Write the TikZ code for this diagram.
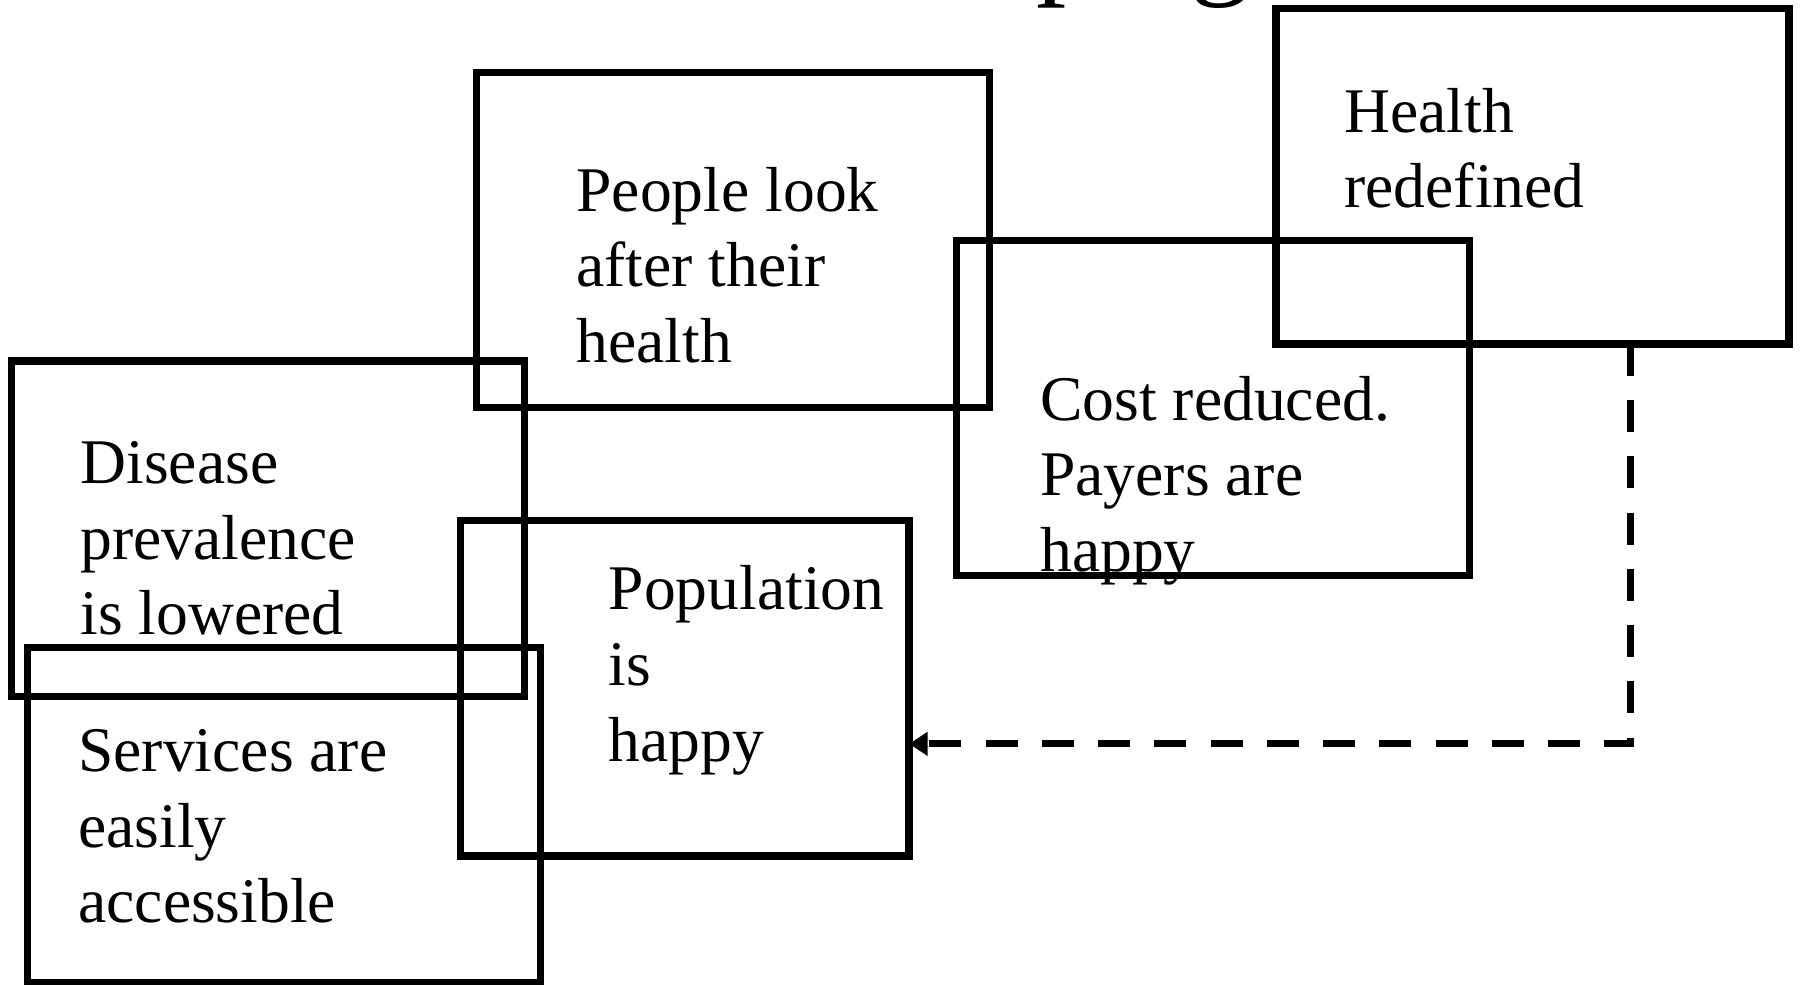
\documentclass[tikz,border=0pt]{standalone}
\usepackage{fontspec}
\setmainfont{Liberation Serif}
\usetikzlibrary{arrows.meta}
\newcommand{\bodyfont}{\fontsize{55.4}{66}\selectfont}
\begin{document}
\begin{tikzpicture}[x=1pt,y=-1pt,
  box/.style={draw=black,line width=6.5pt,minimum width=447pt,minimum height=292pt,inner sep=0pt,outer sep=0pt},
  txt/.style={anchor=base west,inner sep=0pt},
  arr/.style={draw=black,line width=6.3pt,dash pattern=on 28pt off 21pt,-{Triangle[length=16pt,width=20pt]}}
]
\useasboundingbox (0,0) rectangle (1568,858);
\clip (0,0) rectangle (1568,858);
% partly visible title
\node[txt,font=\fontsize{105}{120}\selectfont] (ttl) at (903,-15) {ping};
% boxes
\node[box] (people) at (638.5,209) {};
\node[box] (hr) at (1335,153.5) {};
\node[box] (cost) at (1056.5,355.5) {};
\node[box] (dis) at (233.5,460.5) {};
\node[box,minimum width=391pt] (pop) at (596.5,599.5) {};
\node[box] (serv) at (247.5,710) {};
% texts
\node[txt] (tpeople) at (502,184) {\parbox[t]{420pt}{\bodyfont\raggedright People look\\after their\\health}};
\node[txt] (thr) at (1171,115) {\parbox[t]{420pt}{\bodyfont\raggedright Health\\redefined}};
\node[txt] (tcost) at (906,366) {\parbox[t]{420pt}{\bodyfont\raggedright Cost reduced.\\Payers are\\happy}};
\node[txt] (tdis) at (70,421) {\parbox[t]{420pt}{\bodyfont\raggedright Disease\\prevalence\\is lowered}};
\node[txt] (tpop) at (530,531) {\parbox[t]{420pt}{\bodyfont\raggedright Population\\is\\happy}};
\node[txt] (tserv) at (68,672) {\parbox[t]{420pt}{\bodyfont\raggedright Services are\\easily\\accessible}};
% connector
\coordinate (bend) at (1420,648);
\draw[arr] (hr.south -| bend) -- (bend) -- (pop.east |- bend);
\end{tikzpicture}
\end{document}
